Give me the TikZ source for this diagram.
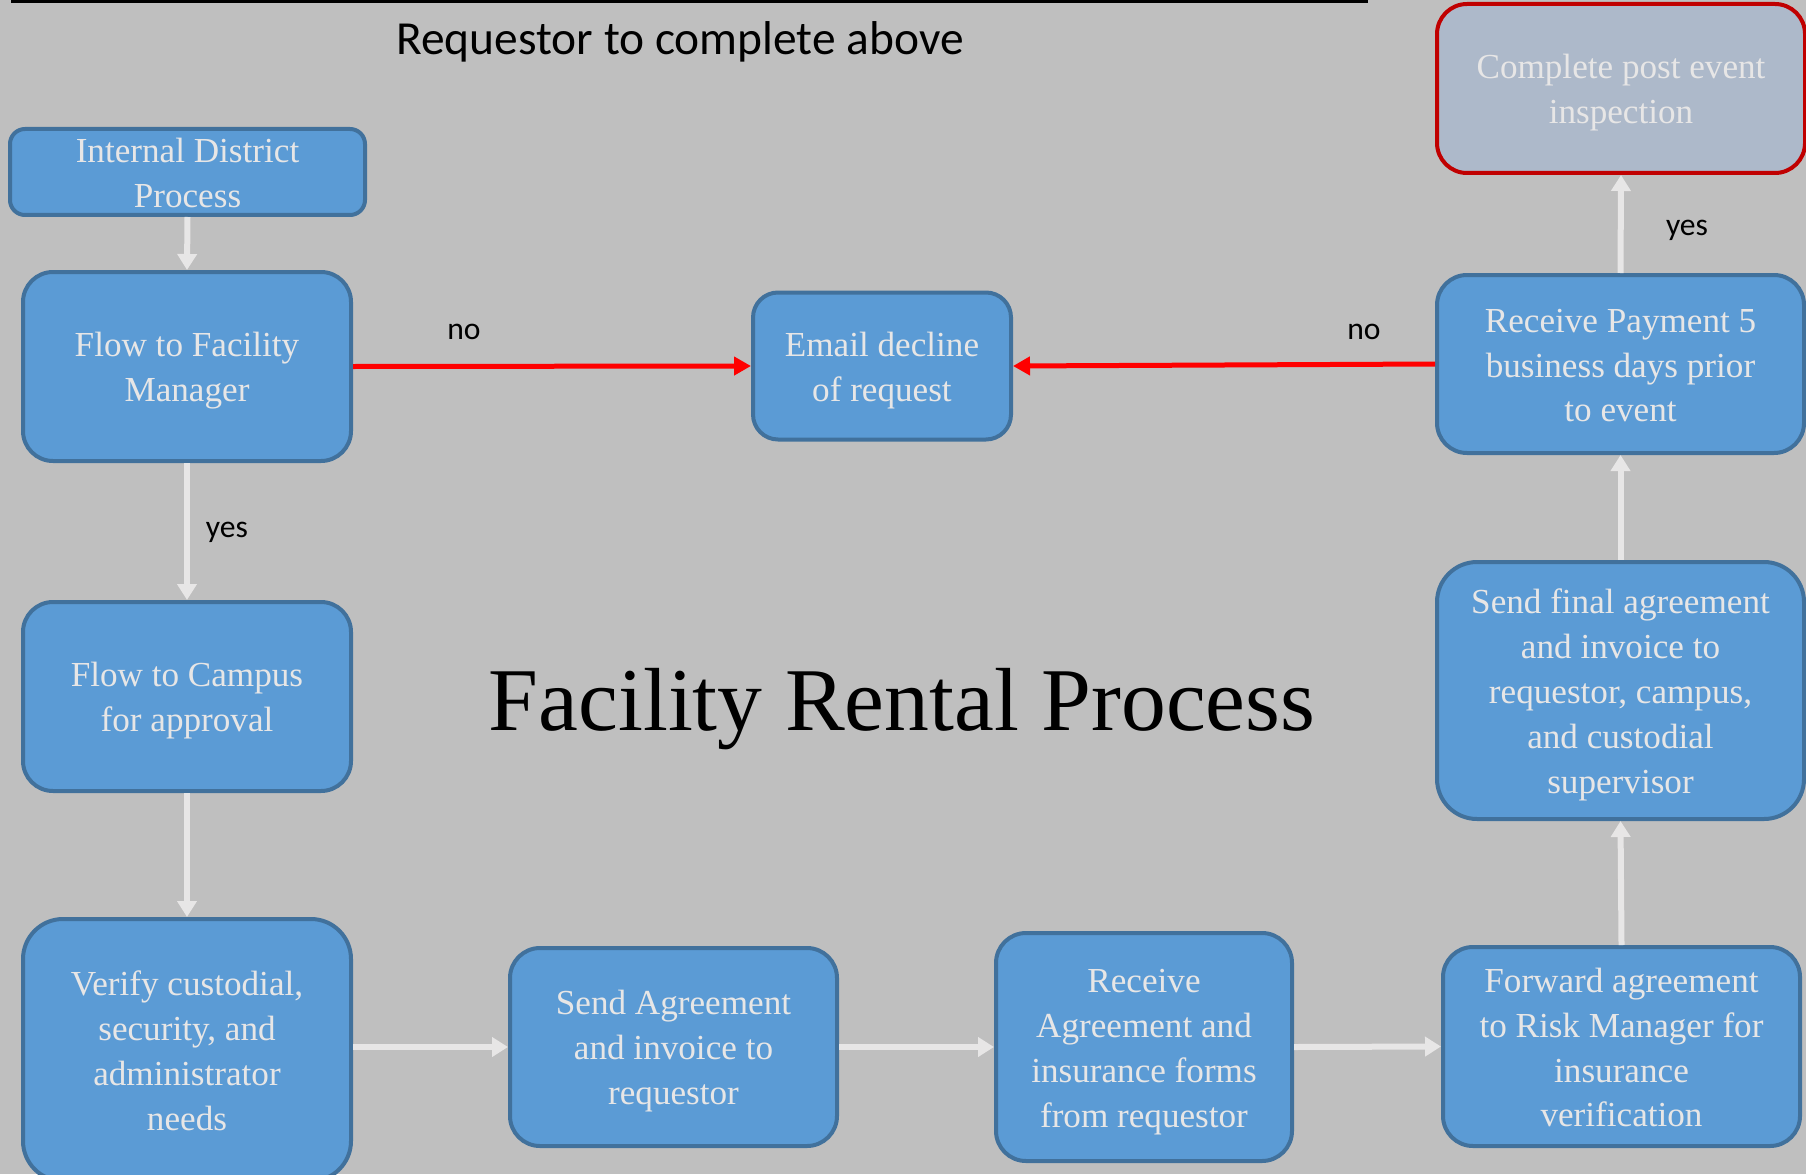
\documentclass[tikz,border=0pt]{standalone}
\usepackage{fontspec}
\setmainfont{Liberation Serif}
\newfontfamily\labelfont{Carlito}
\usetikzlibrary{arrows.meta}
\definecolor{bggray}{HTML}{BFBFBF}
\definecolor{boxblue}{HTML}{5B9BD5}
\definecolor{boxedge}{HTML}{41719C}
\definecolor{paletext}{HTML}{E7E6E6}
\definecolor{postfill}{HTML}{ADB9CA}
\definecolor{postedge}{HTML}{C00000}

\begin{document}
\begin{tikzpicture}[x=0.1mm,y=-0.1mm,
    stage/.style={draw=boxedge,fill=boxblue,line width=0.4mm,rounded corners=3mm,
      text=paletext,align=flush center,inner sep=0pt,font=\fontsize{10}{12.8}\selectfont,
      execute at begin node={\rule{0pt}{9.4pt}},execute at end node={\rule[-2pt]{0pt}{2pt}}},
    flow/.style={draw=paletext,line width=0.6mm,-{Triangle[width=1.9mm,length=1.6mm]}},
    refusal/.style={draw=red,line width=0.5mm,-{Triangle[width=1.8mm,length=1.7mm]}},
    answer/.style={font=\labelfont\fontsize{9}{11}\selectfont}]

      \path[use as bounding box,fill=bggray] (0,0) rectangle (1806,1174);
      \draw[line width=0.7mm] (11,0) -- (1368,0);
      \node (requestor) at (680,42) {\labelfont\fontsize{13.5}{16}\selectfont Requestor to complete above};
      \node (title) at (902,709) {\fontsize{25.5}{30}\selectfont Facility Rental Process};

%     left column
      \node[stage,rounded corners=1.5mm,text width=35.5mm,minimum height=8.6mm] (idp) at (187.5,172)
          {Internal District\\Process};
      \node[stage,text width=32.8mm,minimum height=18.9mm] (fm) at (187,366.5)
          {Flow to Facility\\Manager};
      \node[stage,text width=32.8mm,minimum height=18.9mm] (campus) at (187,696.5)
          {Flow to Campus\\for approval};
      \node[stage,rounded corners=4mm,text width=32.8mm,minimum height=26.2mm] (verify) at (187,1050)
          {Verify custodial,\\security, and\\administrator\\needs};

%     bottom row
      \node[stage,text width=32.7mm,minimum height=19.8mm] (sendagr) at (673.5,1047)
          {Send Agreement\\and invoice to\\requestor};
      \node[stage,text width=29.6mm,minimum height=22.8mm] (recvagr) at (1144,1047)
          {Receive\\Agreement and\\insurance forms\\from requestor};
      \node[stage,text width=35.7mm,minimum height=19.9mm] (forward) at (1621.5,1046.5)
          {Forward agreement\\to Risk Manager for\\insurance\\verification};

%     right column
      \node[stage,rounded corners=4mm,text width=36.7mm,minimum height=25.7mm] (final) at (1620.5,690.5)
          {Send final agreement\\and invoice to\\requestor, campus,\\and custodial\\supervisor};
      \node[stage,text width=36.7mm,minimum height=17.8mm] (payment) at (1620.5,364)
          {Receive Payment 5\\business days prior\\to event};
      \node[stage,draw=postedge,fill=postfill,text width=36.8mm,minimum height=16.9mm] (post) at (1621,88.5)
          {Complete post event\\inspection};
      \node[stage,rounded corners=2.5mm,text width=25.8mm,minimum height=14.7mm] (email) at (882,366)
          {Email decline\\of request};

      \draw[flow] (idp.south) -- (fm.north);
      \draw[flow] (fm.south) -- (campus.north);
      \draw[flow] (campus.south) -- (verify.north);
      \draw[flow] (verify.east |- sendagr.west) -- (sendagr.west);
      \draw[flow] (sendagr.east) -- (recvagr.west);
      \draw[flow] (recvagr.east) -- (forward.west);
      \draw[flow] (forward.north) -- (final.south);
      \draw[flow] (final.north) -- (payment.south);
      \draw[flow] (payment.north) -- (post.south);
      \draw[refusal] (fm.east) -- (email.west);
      \draw[refusal] (payment.west) -- (email.east);

      \node[answer] (nofm) at (464,332) {no};
      \node[answer] (nopay) at (1364,332) {no};
      \node[answer] (yesfm) at (227,532) {yes};
      \node[answer] (yespay) at (1687,230) {yes};
\end{tikzpicture}
\end{document}
